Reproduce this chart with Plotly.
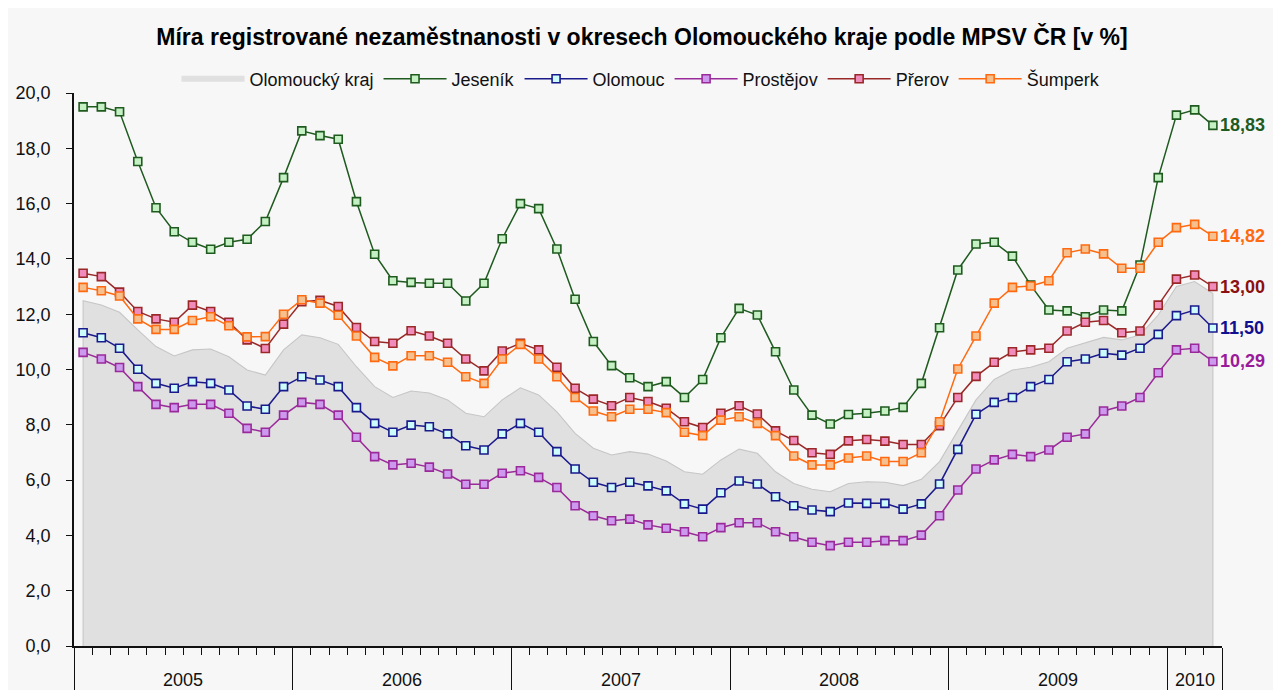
import plotly.graph_objects as go

# ---------------- data ----------------
years = ["2005", "2006", "2007", "2008", "2009", "2010"]
months_per_year = [12, 12, 12, 12, 12, 3]

kraj = [12.49, 12.33, 12.07, 11.43, 10.83, 10.49, 10.71, 10.74, 10.46, 9.98, 9.80, 10.71,
        11.25, 11.15, 10.91, 10.10, 9.38, 8.99, 9.22, 9.15, 8.90, 8.42, 8.29, 8.90,
        9.34, 9.08, 8.47, 7.69, 7.15, 6.91, 7.03, 6.94, 6.69, 6.30, 6.21, 6.73,
        7.12, 6.97, 6.30, 5.88, 5.67, 5.58, 5.88, 5.94, 5.92, 5.80, 6.03, 6.67,
        7.81, 8.90, 9.64, 9.98, 10.08, 10.28, 10.77, 10.97, 11.16, 11.07, 11.25, 11.97,
        13.00, 13.18, 12.75]

jesenik = [19.50, 19.50, 19.32, 17.52, 15.85, 14.98, 14.60, 14.35, 14.60, 14.71, 15.35, 16.94,
           18.63, 18.46, 18.33, 16.07, 14.17, 13.21, 13.15, 13.12, 13.12, 12.48, 13.12, 14.73,
           16.00, 15.82, 14.36, 12.54, 11.01, 10.14, 9.70, 9.38, 9.56, 8.99, 9.64, 11.15,
           12.21, 11.97, 10.64, 9.26, 8.35, 8.03, 8.37, 8.42, 8.50, 8.63, 9.50, 11.51,
           13.60, 14.54, 14.60, 14.10, 13.05, 12.15, 12.12, 11.91, 12.15, 12.12, 13.78, 16.94,
           19.20, 19.39, 18.83]

olomouc = [11.33, 11.15, 10.77, 10.01, 9.50, 9.32, 9.56, 9.50, 9.26, 8.68, 8.56, 9.38,
           9.74, 9.62, 9.38, 8.62, 8.05, 7.73, 7.99, 7.93, 7.67, 7.24, 7.09, 7.67,
           8.05, 7.73, 7.03, 6.40, 5.92, 5.73, 5.92, 5.79, 5.61, 5.14, 4.95, 5.54,
           5.97, 5.86, 5.40, 5.07, 4.92, 4.86, 5.17, 5.16, 5.16, 4.95, 5.14, 5.86,
           7.11, 8.38, 8.81, 8.99, 9.38, 9.64, 10.28, 10.38, 10.59, 10.52, 10.77, 11.27,
           11.95, 12.15, 11.50]

prostejov = [10.62, 10.38, 10.07, 9.38, 8.74, 8.62, 8.74, 8.74, 8.42, 7.87, 7.73, 8.35,
             8.81, 8.74, 8.35, 7.55, 6.85, 6.55, 6.61, 6.47, 6.22, 5.85, 5.85, 6.25,
             6.34, 6.10, 5.73, 5.07, 4.71, 4.53, 4.59, 4.38, 4.26, 4.13, 3.95, 4.28,
             4.46, 4.46, 4.13, 3.95, 3.75, 3.63, 3.75, 3.75, 3.81, 3.81, 4.01, 4.71,
             5.64, 6.40, 6.73, 6.93, 6.85, 7.09, 7.55, 7.67, 8.50, 8.68, 8.99, 9.88,
             10.71, 10.77, 10.29]

prerov = [13.48, 13.36, 12.80, 12.10, 11.83, 11.71, 12.33, 12.10, 11.71, 11.07, 10.76, 11.64,
          12.45, 12.50, 12.28, 11.52, 11.01, 10.95, 11.40, 11.21, 10.95, 10.38, 9.95, 10.67,
          10.95, 10.71, 10.08, 9.32, 8.93, 8.69, 8.99, 8.84, 8.60, 8.11, 7.90, 8.42,
          8.69, 8.39, 7.78, 7.43, 6.99, 6.93, 7.42, 7.47, 7.41, 7.29, 7.29, 7.97,
          8.99, 9.75, 10.26, 10.64, 10.71, 10.77, 11.39, 11.71, 11.77, 11.33, 11.39, 12.33,
          13.27, 13.42, 13.00]

sumperk = [12.97, 12.85, 12.66, 11.83, 11.45, 11.45, 11.77, 11.91, 11.58, 11.18, 11.19, 12.00,
           12.52, 12.40, 11.96, 11.21, 10.44, 10.13, 10.50, 10.50, 10.26, 9.74, 9.50, 10.38,
           10.91, 10.38, 9.74, 8.99, 8.50, 8.29, 8.56, 8.56, 8.44, 7.73, 7.61, 8.17,
           8.29, 8.05, 7.61, 6.87, 6.55, 6.55, 6.80, 6.87, 6.67, 6.67, 6.99, 8.11,
           10.02, 11.21, 12.40, 12.97, 13.02, 13.21, 14.22, 14.36, 14.18, 13.66, 13.66, 14.60,
           15.13, 15.25, 14.82]

y_ticks = [0, 2, 4, 6, 8, 10, 12, 14, 16, 18, 20]

series = [
    ("Jeseník", jesenik, "#1f5a1f", "#c4f0c4"),
    ("Olomouc", olomouc, "#1a1a8c", "#ccfcfc"),
    ("Prostějov", prostejov, "#9a2a9a", "#cc99ee"),
    ("Přerov", prerov, "#9a2828", "#f08cbc"),
    ("Šumperk", sumperk, "#ff6a10", "#f5c08e"),
]
label_colors = ["#1f5a1f", "#101090", "#9a1a9a", "#8c1010", "#ff6a10"]

# ---------------- derived positions ----------------
n = sum(months_per_year)
x = list(range(n))
bounds = [-0.5]
for m in months_per_year:
    bounds.append(bounds[-1] + m)
year_centers = [(bounds[i] + bounds[i + 1]) / 2 for i in range(len(years))]

FONT = "Liberation Sans, Arial, sans-serif"

# page geometry (the page body adds an 8px offset)
OFF = 8
W, H = 1282, 690
PL, PR, PT, PB = 74, 1222, 93, 646          # plot area in screen px
PW, PH = PR - PL, PB - PT
def px(sx):
    return (sx - PL) / PW
def py(sy):
    return (PB - sy) / PH

fig = go.Figure()

fig.add_trace(go.Scatter(
    x=x, y=kraj, name="Olomoucký kraj", mode="none",
    fill="tozeroy", fillcolor="#e0e0e0", hoverinfo="skip",
))
fig.add_trace(go.Scatter(
    x=[x[0]] + x + [x[-1]], y=[0] + kraj + [0], mode="lines",
    line=dict(color="#c6c6c6", width=1.1), showlegend=False, hoverinfo="skip",
))

for name, vals, lc, fc in series:
    fig.add_trace(go.Scatter(
        x=x, y=vals, name=name, mode="lines+markers",
        line=dict(color=lc, width=1.5),
        marker=dict(symbol="square", size=8, color=fc, line=dict(color=lc, width=1.6)),
    ))

annotations = []
for (name, vals, lc, fc), col in zip(series, label_colors):
    annotations.append(dict(
        x=x[-1], y=vals[-1], xref="x", yref="y",
        text=f"{vals[-1]:.2f}".replace(".", ","), showarrow=False,
        xanchor="left", yanchor="middle", xshift=5,
        font=dict(family=FONT, size=18, color=col, weight="bold"),
    ))
for yr, xc in zip(years, year_centers):
    annotations.append(dict(
        x=xc, y=py(680), xref="x", yref="paper", text=yr, showarrow=False,
        xanchor="center", yanchor="middle",
        font=dict(family=FONT, size=18, color="#111111"),
    ))

fig.update_layout(
    width=W, height=H, autosize=False,
    margin=dict(l=PL - OFF, r=W - PR + OFF, t=PT - OFF, b=H - (PB - PT) - (PT - OFF),
                pad=0, autoexpand=False),
    paper_bgcolor="white", plot_bgcolor="rgba(0,0,0,0)",
    separators=", ",
    font=dict(family=FONT, size=18, color="#111111"),
    title=dict(
        text="<b>Míra registrované nezaměstnanosti v okresech Olomouckého kraje podle MPSV ČR [v %]</b>",
        x=(642 - OFF) / W, xanchor="center", y=1 - (37 - OFF) / H, yanchor="middle",
        font=dict(family=FONT, size=23, color="#000000"), automargin=False,
    ),
    legend=dict(
        orientation="h", x=px(641), xanchor="center", y=py(79), yanchor="middle",
        bgcolor="rgba(0,0,0,0)", font=dict(family=FONT, size=18, color="#111111"),
        itemclick=False, itemwidth=63,
    ),
    xaxis=dict(
        range=[bounds[0], bounds[-1]], tickmode="array", tickvals=bounds,
        ticktext=[""] * len(bounds), ticks="outside", ticklen=60, tickwidth=1.2,
        tickcolor="#111111", showline=True, linecolor="#111111", linewidth=1.5,
        showgrid=False, zeroline=False, automargin=False,
        minor=dict(ticks="outside", ticklen=7, tickwidth=1, tickcolor="#111111",
                   dtick=1, tick0=bounds[0], showgrid=False),
    ),
    yaxis=dict(
        range=[0, 20], tickmode="array", tickvals=y_ticks, tickformat=".1f",
        ticks="outside", ticklen=6, tickwidth=1.2, tickcolor="#111111",
        showline=True, linecolor="#111111", linewidth=1.5, automargin=False,
        showgrid=False, zeroline=False, ticklabelstandoff=12,
        tickfont=dict(family=FONT, size=18, color="#111111"),
    ),
    annotations=annotations,
    shapes=[dict(
        type="rect", xref="paper", yref="paper",
        x0=px(OFF), x1=px(1273), y0=py(740), y1=py(OFF),
        fillcolor="#f7f7f7", line=dict(width=0), layer="below",
    )],
)

fig.write_html("out.html")
